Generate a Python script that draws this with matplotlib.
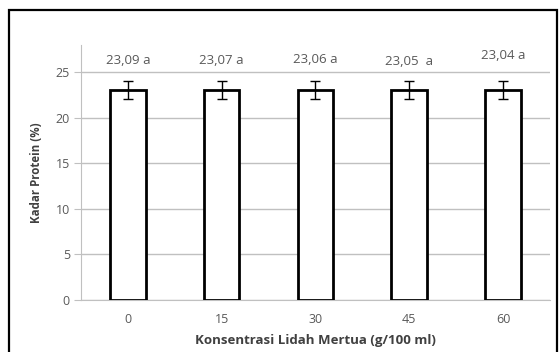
import matplotlib.pyplot as plt
from matplotlib.patches import Rectangle

# data
konsentrasi = ["0", "15", "30", "45", "60"]
protein = [23.09, 23.07, 23.06, 23.05, 23.04]
galat = [1.0, 1.0, 1.0, 1.0, 1.0]
label_atas = ["23,09 a", "23,07 a", "23,06 a", "23,05  a", "23,04 a"]
label_y = [26.3, 26.3, 26.4, 26.2, 26.9]

plt.rcParams["font.family"] = ["Open Sans", "DejaVu Sans"]
abu = "#595959"

fig = plt.figure(figsize=(5.6, 3.52), dpi=100)
ax = fig.add_axes([0.1446, 0.1477, 0.8374, 0.7243])

x = range(len(konsentrasi))
ax.bar(x, protein, width=0.38, color="white", edgecolor="black",
       linewidth=2.0, zorder=3)
ax.errorbar(x, protein, yerr=galat, fmt="none", ecolor="black",
            elinewidth=1.0, capsize=3.5, capthick=1.0, zorder=4)

for xi, txt, yy in zip(x, label_atas, label_y):
    ax.text(xi, yy, txt, ha="center", va="center", fontsize=9.5, color=abu)

ax.set_xlim(-0.5, 4.5)
ax.set_ylim(0, 28)
ax.set_yticks([0, 5, 10, 15, 20, 25])
ax.set_xticks(list(x))
ax.set_xticklabels(konsentrasi)
ax.grid(axis="y", color="#c0c0c0", linewidth=1.0, zorder=0)
ax.set_axisbelow(True)

for side in ["top", "right"]:
    ax.spines[side].set_visible(False)
ax.spines["left"].set_color("#c0c0c0")
ax.spines["bottom"].set_color("#c0c0c0")
ax.tick_params(axis="y", length=5, color="#c0c0c0", labelsize=9,
               labelcolor=abu, pad=3)
ax.tick_params(axis="x", length=0, labelsize=9, labelcolor=abu, pad=9)

ax.set_xlabel("Konsentrasi Lidah Mertua (g/100 ml)", fontsize=9.5,
              fontweight="bold", color="#404040", labelpad=6)
ax.set_ylabel("Kadar Protein (%)", fontsize=8.3, fontweight="bold",
              color="#404040", labelpad=9)

# outer frame, cut off at the bottom like in the picture
fig.patches.append(Rectangle((9 / 560, -0.2), 548 / 560, 1.2 - 10 / 352,
                             transform=fig.transFigure, fill=False,
                             edgecolor="black", linewidth=1.6))

fig.savefig("out.png", dpi=100)
